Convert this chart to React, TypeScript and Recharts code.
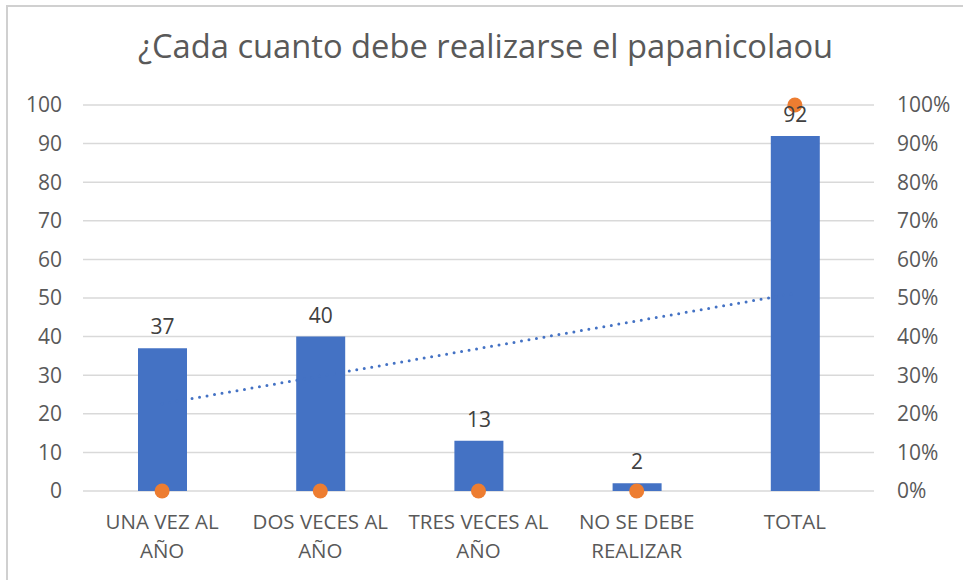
import React from "react";
import {
  ComposedChart,
  Bar,
  Line,
  XAxis,
  YAxis,
  CartesianGrid,
  LabelList,
} from "recharts";

const categories = [
  "UNA VEZ AL AÑO",
  "DOS VECES AL AÑO",
  "TRES VECES AL AÑO",
  "NO SE DEBE REALIZAR",
  "TOTAL",
];
const counts = [37, 40, 13, 2, 92];
const shares = [0, 0, 0, 0, 1];
const trend = [22.6, null, null, null, 51.2];
const leftTicks = [0, 10, 20, 30, 40, 50, 60, 70, 80, 90, 100];
const rightTicks = [0, 0.1, 0.2, 0.3, 0.4, 0.5, 0.6, 0.7, 0.8, 0.9, 1];

const data = categories.map((c, i) => ({
  name: c,
  count: counts[i],
  share: shares[i],
  trend: trend[i],
}));

const FONT = "'Open Sans', sans-serif";
const GREY = "#595959";

function wrap(text: string, max: number): string[] {
  const words = text.split(" ");
  const lines: string[] = [];
  let cur = "";
  for (const w of words) {
    const next = cur ? cur + " " + w : w;
    if (next.length > max && cur) {
      lines.push(cur);
      cur = w;
    } else {
      cur = next;
    }
  }
  if (cur) lines.push(cur);
  return lines;
}

const XTick = (props: any) => {
  const { x, y, payload } = props;
  const lines = wrap(String(payload.value), 13);
  return (
    <g transform={`translate(${x},${y})`}>
      {lines.map((l, i) => (
        <text
          key={i}
          x={0}
          y={30 + i * 29}
          textAnchor="middle"
          fill={GREY}
          fontSize={20.5}
          fontFamily={FONT}
        >
          {l}
        </text>
      ))}
    </g>
  );
};

export default function App() {
  return (
    <div style={{ position: "absolute", left: 0, top: 0, width: 963, height: 580, background: "#fff", overflow: "hidden" }}>
      <div
        style={{
          position: "absolute",
          left: 0,
          width: 963,
          top: 23,
          textAlign: "center",
          paddingLeft: 8,
          boxSizing: "border-box",
          fontFamily: FONT,
          fontSize: 32.7,
          color: GREY,
          whiteSpace: "nowrap",
        }}
      >
        ¿Cada cuanto debe realizarse el papanicolaou
      </div>
      <div style={{ position: "absolute", left: 0, top: 0 }}>
        <ComposedChart
          width={963}
          height={580}
          data={data}
          margin={{ top: 105, right: 0, bottom: 29, left: 0 }}
        >
          <CartesianGrid yAxisId="left" vertical={false} stroke="#d9d9d9" strokeWidth={1.5} />
          <XAxis
            dataKey="name"
            axisLine={false}
            tickLine={false}
            height={60}
            tick={<XTick />}
            interval={0}
          />
          <YAxis
            yAxisId="left"
            domain={[0, 100]}
            ticks={leftTicks}
            axisLine={false}
            tickLine={false}
            tickSize={0}
            tickMargin={21}
            width={83}
            tick={{ fill: GREY, fontSize: 21, fontFamily: FONT }}
          />
          <YAxis
            yAxisId="right"
            orientation="right"
            domain={[0, 1]}
            ticks={rightTicks}
            axisLine={false}
            tickLine={false}
            tickSize={0}
            tickMargin={23}
            width={89}
            tickFormatter={(v: number) => `${Math.round(v * 100)}%`}
            tick={{ fill: GREY, fontSize: 21, fontFamily: FONT, textAnchor: "start" }}
          />
          <Line
            yAxisId="left"
            dataKey="trend"
            connectNulls
            stroke="#4472C4"
            strokeWidth={3}
            strokeDasharray="0 7.6"
            strokeLinecap="round"
            dot={false}
            activeDot={false}
            isAnimationActive={false}
          />
          <Bar
            yAxisId="left"
            dataKey="count"
            fill="#4472C4"
            barSize={49}
            isAnimationActive={false}
          >
            <LabelList
              dataKey="count"
              position="top"
              offset={14}
              fill="#404040"
              fontSize={21}
              fontFamily={FONT}
            />
          </Bar>
          <Line
            yAxisId="right"
            dataKey="share"
            stroke="none"
            dot={{ r: 7.5, fill: "#ED7D31", stroke: "none" }}
            activeDot={false}
            isAnimationActive={false}
          />
        </ComposedChart>
      </div>
      <svg
        width={963}
        height={580}
        style={{ position: "absolute", left: 0, top: 0, pointerEvents: "none", zIndex: 5 }}
      >
        <line x1={7} y1={6} x2={7} y2={580} stroke="#d0d0d0" strokeWidth={2} />
        <line x1={6} y1={6} x2={963} y2={6} stroke="#d0d0d0" strokeWidth={2} />
      </svg>
    </div>
  );
}
